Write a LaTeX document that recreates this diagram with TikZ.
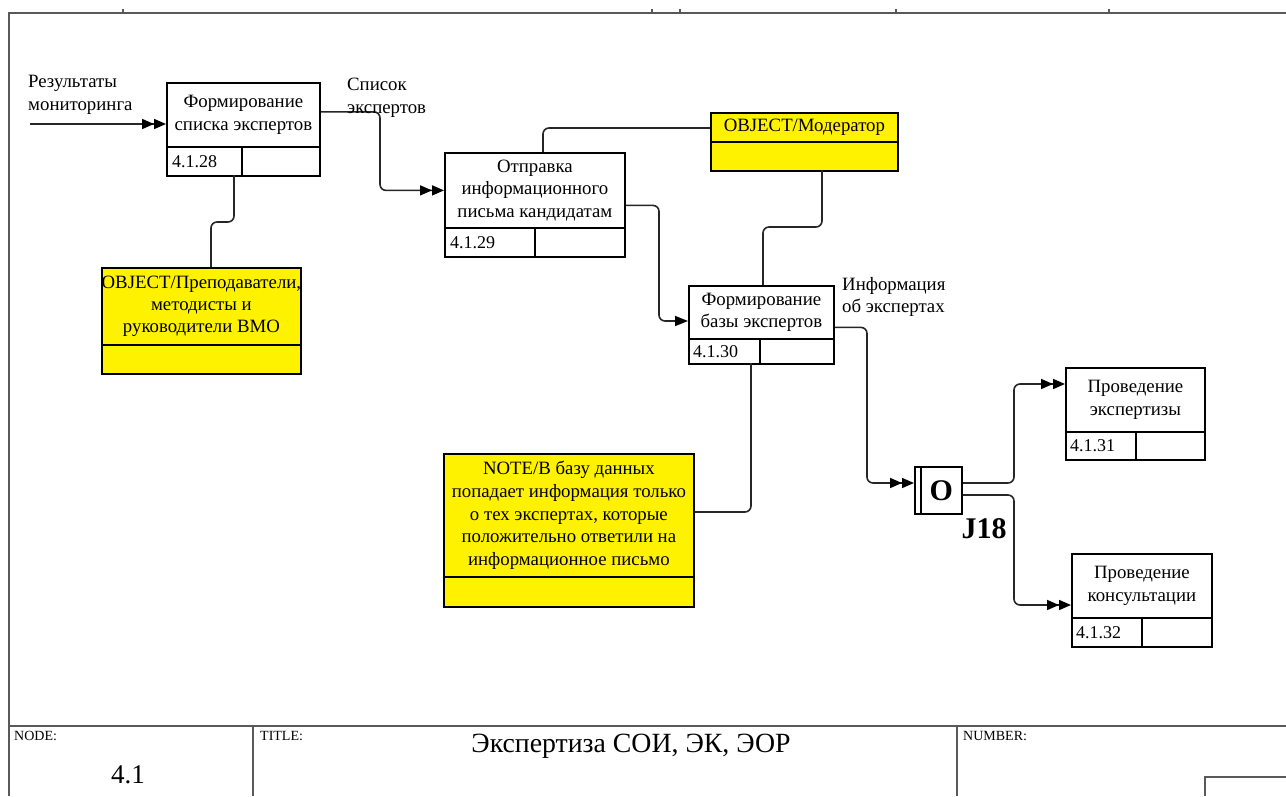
\documentclass[tikz,border=0pt]{standalone}
\usepackage{fontspec}
\setmainfont{Liberation Serif}
\usetikzlibrary{arrows.meta,calc}

% one cell of an IDEF0 activity box: name, x1, y1, x2, y2, style, text
\newcommand\idefcell[7]{%
  \node[#6, minimum width={#4-#2}, minimum height={#5-#3}] (#1) at (#2,#3) {#7};}

\begin{document}
\begin{tikzpicture}[x=1pt,y=-1pt,
  frame/.style={draw=black!65, line width=1.6pt},
  tick/.style={draw=black!65, line width=1.2pt},
  cell/.style={draw=black, line width=1.8pt, fill=white, rectangle,
    inner sep=0pt, anchor=north west, align=center,
    font=\fontsize{18.8}{22.8}\selectfont},
  ycell/.style={cell, fill=yellow},
  num/.style={anchor=west, inner sep=0pt, font=\fontsize{18}{20}\selectfont},
  note/.style={anchor=west, inner sep=0pt, align=left,
    font=\fontsize{18.8}{22.5}\selectfont},
  small/.style={anchor=north west, inner sep=0pt, font=\fontsize{14}{16}\selectfont},
  wire/.style={draw=black!85, line width=1.6pt, rounded corners=6pt},
  dbl/.style={wire, -{Triangle[length=12pt,width=10pt,color=black]Triangle[length=12pt,width=10pt,color=black]}},
  sgl/.style={wire, -{Triangle[length=13pt,width=10pt,color=black]}},
  bigb/.style={inner sep=0pt, font=\bfseries\fontsize{30}{32}\selectfont},
]
\useasboundingbox (0,0) rectangle (1286,796);

% ---- sheet frame ----
\draw[frame] (9,796) -- (9,13) -- (1286,13);
\foreach \tx in {123,652,680,896,1109} \draw[tick] (\tx,9) -- (\tx,13);
\draw[frame] (9,726) -- (1286,726);
\draw[frame] (253,726) -- (253,796);
\draw[frame] (957,726) -- (957,796);
\draw[frame] (1205,796) -- (1205,777) -- (1286,777);
\node[small] (nodeLbl) at (14,731) {NODE:};
\node[small] (titleLbl) at (260,731) {TITLE:};
\node[small] (numLbl) at (963,731) {NUMBER:};
\node[inner sep=0pt, font=\fontsize{27}{30}\selectfont] (nodeNo) at (128,775) {4.1};
\node[inner sep=0pt, font=\fontsize{27.8}{30}\selectfont] (titleTx) at (631,746) {Экспертиза СОИ, ЭК, ЭОР};

% ---- activity boxes ----
\idefcell{A}{166}{82}{319}{146}{cell}{Формирование\\списка экспертов}
\idefcell{A1}{166}{146}{241}{175}{cell}{}
\idefcell{A2}{241}{146}{319}{175}{cell}{}
\node[num] (A1t) at ($(A1.west)+(6,0)$) {4.1.28};

\idefcell{B}{444}{152}{624}{227}{cell}{Отправка\\информационного\\письма кандидатам}
\idefcell{B1}{444}{227}{534}{256}{cell}{}
\idefcell{B2}{534}{227}{624}{256}{cell}{}
\node[num] (B1t) at ($(B1.west)+(6,0)$) {4.1.29};

\idefcell{C}{688}{285}{833}{338}{cell}{Формирование\\базы экспертов}
\idefcell{C1}{688}{338}{759}{363}{cell}{}
\idefcell{C2}{759}{338}{833}{363}{cell}{}
\node[num] (C1t) at ($(C1.west)+(5,0)$) {4.1.30};

\idefcell{D}{1065}{367}{1204}{431}{cell}{Проведение\\экспертизы}
\idefcell{D1}{1065}{431}{1135}{459}{cell}{}
\idefcell{D2}{1135}{431}{1204}{459}{cell}{}
\node[num] (D1t) at ($(D1.west)+(5,0)$) {4.1.31};

\idefcell{E}{1071}{553}{1211}{617}{cell}{Проведение\\консультации}
\idefcell{E1}{1071}{617}{1141}{646}{cell}{}
\idefcell{E2}{1141}{617}{1211}{646}{cell}{}
\node[num] (E1t) at ($(E1.west)+(5,0)$) {4.1.32};

% ---- referents and note ----
\idefcell{Y1}{101}{267}{300}{344}{ycell}{}
\idefcell{Y1b}{101}{344}{300}{373}{ycell}{}
\node[inner sep=0pt, align=center, font=\fontsize{18.8}{22.2}\selectfont]
  (Y1t) at (Y1.center) {OBJECT/Преподаватели,\\методисты и\\руководители ВМО};

\idefcell{Y2}{710}{112}{897}{141}{ycell}{OBJECT/Модератор}
\idefcell{Y2b}{710}{141}{897}{170}{ycell}{}

\idefcell{Y3}{443}{453}{693}{576}{ycell}{NOTE/В базу данных\\попадает информация только\\о тех экспертах, которые\\положительно ответили на\\информационное письмо}
\idefcell{Y3b}{443}{576}{693}{606}{ycell}{}

% ---- junction J18 ----
\idefcell{J}{914}{466}{961}{513}{cell}{}
\draw[line width=1.8pt] ($(J.north west)+(7,0)$) -- ($(J.south west)+(7,0)$);
\node[bigb] (Jo) at ($(J.center)+(3,0)$) {O};
\node[bigb] (Jlbl) at (984,529) {J18};

% ---- arrows ----
\coordinate (inStart) at (30,124);
\draw[dbl] (inStart) -- (inStart -| A.west);
\node[note] (inLbl) at (28,95) {Результаты\\мониторинга};

\draw[dbl] ($(A.east)+(0,-3)$) -| (380,170) |- (B.west);
\node[note] (outA) at (347,98) {Список\\экспертов};

\draw[wire] (234,175) -- (234,222) -- (211,222) -- (Y1.north -| 211,0);

\draw[wire] (543,152) |- (Y2.west |- 0,128);
\draw[wire] (822,170) |- (763,227) -- (763,285);

\draw[sgl] ($(B.east)+(0,15)$) -| (659,260) |- (C.west |- 0,321);

\draw[wire] (751,363) |- (Y3.east |- 0,512);

\draw[dbl] ($(C.east)+(0,15)$) -| (867,420) |- (J.west |- 0,483);
\node[note] (outC) at (842,297) {Информация\\об экспертах};

\draw[dbl] (J.east |- 0,483) -| (1014,430) |- (D.west |- 0,384);
\draw[dbl] (J.east |- 0,495) -| (1014,560) |- (E.west |- 0,605);
\end{tikzpicture}
\end{document}
